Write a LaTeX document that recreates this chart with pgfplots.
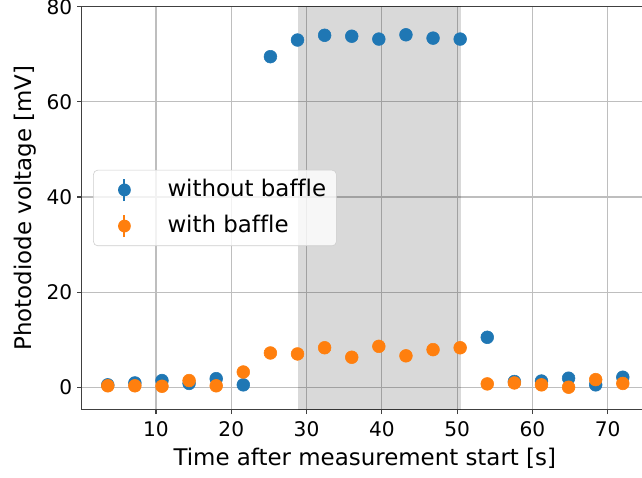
\documentclass[border=0pt]{standalone}
\usepackage{fontspec}
\setmainfont{DejaVu Sans}[Ligatures={NoCommon}]
\usepackage{pgfplots}
\pgfplotsset{compat=1.18}
\definecolor{mplblue}{HTML}{1F77B4}
\definecolor{mplorange}{HTML}{FF7F0E}
\definecolor{mplgrid}{HTML}{BEBEBE}

% time [s], voltage [mV], error [mV]
\pgfplotstableread{
t    v     e
3.6  0.5   0.2
7.2  0.9   0.2
10.8 1.4   0.2
14.4 0.8   0.2
18.0 1.8   0.2
21.6 0.5   0.2
25.2 69.5  0.3
28.8 73.0  0.3
32.4 74.0  0.3
36.0 73.8  0.3
39.6 73.2  0.3
43.2 74.1  0.3
46.8 73.4  0.3
50.4 73.2  0.3
54.0 10.5  0.2
57.6 1.2   0.2
61.2 1.3   0.2
64.8 1.9   0.2
68.4 0.5   0.2
72.0 2.1   0.2
}\without
\pgfplotstableread{
t    v     e
3.6  0.3   0.2
7.2  0.3   0.2
10.8 0.2   0.2
14.4 1.4   0.2
18.0 0.3   0.2
21.6 3.2   0.2
25.2 7.2   0.2
28.8 7.0   0.2
32.4 8.3   0.2
36.0 6.3   0.2
39.6 8.6   0.2
43.2 6.6   0.2
46.8 7.9   0.2
50.4 8.3   0.2
54.0 0.7   0.2
57.6 0.9   0.2
61.2 0.5   0.2
64.8 0.0   0.2
68.4 1.6   0.2
72.0 0.8   0.2
}\withb

\begin{document}
\begin{tikzpicture}
\useasboundingbox (0,0) rectangle (462.24pt,344.16pt);
\clip (0,0) rectangle (462.24pt,344.16pt);
\begin{axis}[
  at={(59pt,49.5pt)}, anchor=south west,
  width=407.3pt, height=289.8pt, scale only axis,
  xmin=0.17, xmax=75.3, ymin=-4.63, ymax=80,
  xtick={10,20,...,70}, ytick={0,20,...,80},
  grid=major,
  major grid style={draw=mplgrid, line width=0.8pt},
  axis line style={draw=black!75, line width=0.8pt},
  tick style={draw=black!75, line width=0.8pt},
  tick align=outside, major tick length=3.5pt,
  xtick pos=bottom, ytick pos=left,
  tick label style={font=\fontsize{14.5}{17}\selectfont},
  x tick label style={yshift=-2pt},
  /pgf/number format/assume math mode=true,
  xlabel={Time after measurement start [s]},
  ylabel={Photodiode voltage [mV]},
  label style={font=\fontsize{16.5}{19}\selectfont},
  xlabel style={at={(axis description cs:0.5,-0.1408)}, anchor=base},
  ylabel style={at={(axis description cs:-0.0884,0.5)}, anchor=base},
  legend style={
    at={(0,0.5)}, anchor=west, xshift=8.1pt,
    draw=black!20, rounded corners=3pt, fill=white, fill opacity=0.8, text opacity=1,
    inner xsep=5.4pt, inner ysep=4.2pt,
    nodes={inner sep=2pt, anchor=west, text height=12.5pt, text depth=3.5pt},
    row sep=6pt,
    font=\fontsize{16.5}{19}\selectfont,
  },
  legend cell align=left,
]
\addplot[fill=black, fill opacity=0.15, draw=none, forget plot]
  coordinates {(28.8,-10) (50.45,-10) (50.45,90) (28.8,90)} -- cycle;

\addlegendimage{legend image code/.code={
  \path[draw=none] (0pt,0pt) -- (45.9pt,0pt);
  \draw[mplblue, line width=1.5pt, draw opacity=1] (16.9pt,-8pt) -- (16.9pt,8pt);
  \fill[mplblue, draw=none, fill opacity=1] (16.9pt,0pt) circle (4.6pt);}}
\addlegendentry{without baffle}
\addlegendimage{legend image code/.code={
  \path[draw=none] (0pt,0pt) -- (45.9pt,0pt);
  \draw[mplorange, line width=1.5pt, draw opacity=1] (16.9pt,-8pt) -- (16.9pt,8pt);
  \fill[mplorange, draw=none, fill opacity=1] (16.9pt,0pt) circle (4.6pt);}}
\addlegendentry{with baffle}

\addplot[only marks, mark=*, mark size=4.6pt, mplblue, mark options={draw=none, fill=mplblue},
  error bars/.cd, y dir=both, y explicit, error bar style={line width=1.5pt}, error mark=none]
  table[x=t, y=v, y error=e] {\without};
\addplot[only marks, mark=*, mark size=4.6pt, mplorange, mark options={draw=none, fill=mplorange},
  error bars/.cd, y dir=both, y explicit, error bar style={line width=1.5pt}, error mark=none]
  table[x=t, y=v, y error=e] {\withb};
\end{axis}
\end{tikzpicture}
\end{document}
